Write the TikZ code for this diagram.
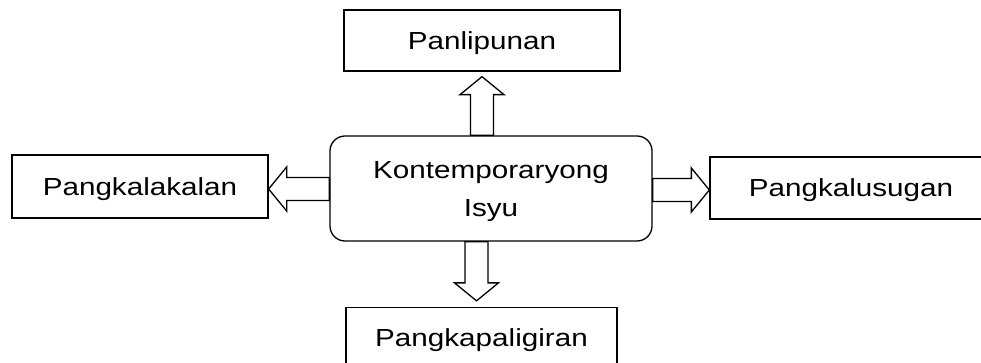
\documentclass[tikz,border=0pt]{standalone}
\usepackage{fontspec}
\setmainfont{Liberation Sans}[FakeStretch=1.2]
\usetikzlibrary{calc}
\tikzset{
  box/.style={draw=black, line width=1.3pt, fill=white, inner sep=0pt,
    font=\fontsize{24.7pt}{37pt}\selectfont, text height=18pt, text depth=0pt},
  hub/.style={box, rounded corners=15pt, align=center, text height=55pt, text depth=0pt},
  blk/.style={draw=black, line width=1.3pt, fill=white, line join=miter}
}
\newcommand\blockarr[2]{%
  \coordinate (hh) at ($(#2)!18pt!(#1)$);
  \draw[blk] ($(#1)!11.5pt!90:(#2)$) -- ($(hh)!11.5pt!-90:(#1)$) -- ($(hh)!22pt!-90:(#1)$) -- (#2)
    -- ($(hh)!22pt!90:(#1)$) -- ($(hh)!11.5pt!90:(#1)$) -- ($(#1)!11.5pt!-90:(#2)$) -- cycle;}
\begin{document}
\begin{tikzpicture}[x=1pt,y=1pt]
\useasboundingbox (0,0) rectangle (981,-363);
\clip (0,0) rectangle (981,-363);
\node[hub, minimum width=322pt, minimum height=105pt] (c) at (491,-188.5) {Kontemporaryong\\Isyu};
\node[box, minimum width=276pt, minimum height=61pt] (top) at (482,-40.5) {Panlipunan};
\node[box, minimum width=256pt, minimum height=63pt] (lft) at (140,-186.5) {Pangkalakalan};
\node[box, minimum width=282pt, minimum height=62pt] (rgt) at (851,-188) {Pangkalusugan};
\node[box, minimum width=271pt, minimum height=60pt] (bot) at (481.5,-337.5) {Pangkapaligiran};
% up
\coordinate (ua) at (c.north -| top.south);
\coordinate (ub) at ($(top.south)+(0,-5)$);
\blockarr{ua}{ub}
% down
\coordinate (da) at ($(c.south -| bot.north)+(-5,0)$);
\coordinate (db) at ($(bot.north)+(-5,6)$);
\blockarr{da}{db}
% left
\coordinate (la) at (c.west |- 0,-189);
\coordinate (lb) at (lft.east |- 0,-189);
\blockarr{la}{lb}
% right
\coordinate (ra) at (c.east |- 0,-190);
\coordinate (rb) at (rgt.west |- 0,-190);
\blockarr{ra}{rb}
\end{tikzpicture}
\end{document}
